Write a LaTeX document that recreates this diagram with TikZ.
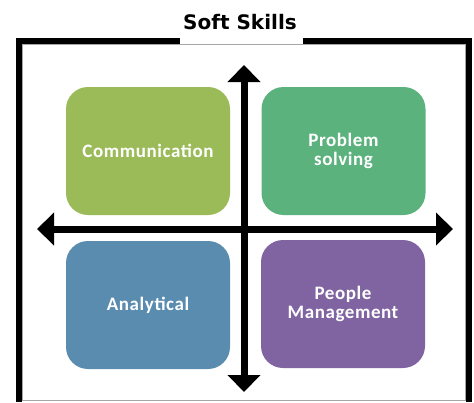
\documentclass[tikz,border=0pt]{standalone}
\usepackage{fontspec}
\usepackage{tikz}
\usetikzlibrary{arrows.meta}
\newfontfamily\titlefont{DejaVu Sans}
\newfontfamily\boxfont[LetterSpace=3]{Carlito}
\definecolor{commgreen}{RGB}{155,187,89}
\definecolor{probgreen}{RGB}{91,178,125}
\definecolor{analblue}{RGB}{90,140,176}
\definecolor{peoplepurple}{RGB}{128,100,162}

\begin{document}
\begin{tikzpicture}[
  x=1pt,y=-1pt,
  skill/.style={rounded corners=22pt,minimum width=164pt,minimum height=128pt,
    inner sep=0pt,align=center,text=white,font=\boxfont\bfseries\fontsize{19}{19}\selectfont,fill=#1},
  axis/.style={line width=7pt,-{Triangle[length=17pt,width=32pt]}},
  frame/.style={line width=6pt}
  ]
\useasboundingbox (0,0) rectangle (474,402);
\def\xa{244}
\def\ya{229}
% title and frame
\node[font=\titlefont\bfseries\fontsize{20}{22}\selectfont] (title) at (240,22) {Soft Skills};
\draw[gray!70,line width=1pt] (22.5,44.5) rectangle (465.5,400);
\draw[frame] (180,41) -- (19,41) -- (19,402);
\draw[frame] (303,41) -- (469,41) -- (469,402);
% quadrants
\node[skill=commgreen] (comm) at (148,151) {Communication};
\node[skill=probgreen] (prob) at (343.5,151) {Problem\\solving};
\node[skill=analblue] (anal) at (148,305) {Analytical};
\node[skill=peoplepurple] (people) at (343,304) {People\\Management};
% axes
\coordinate (top) at (\xa,65);
\coordinate (bottom) at (\xa,392);
\coordinate (left) at (37,\ya);
\coordinate (right) at (453,\ya);
\coordinate (mid) at (\xa,\ya);
\draw[axis] (mid) -- (top);
\draw[axis] (mid) -- (bottom);
\draw[axis] (mid) -- (left);
\draw[axis] (mid) -- (right);
\end{tikzpicture}
\end{document}
